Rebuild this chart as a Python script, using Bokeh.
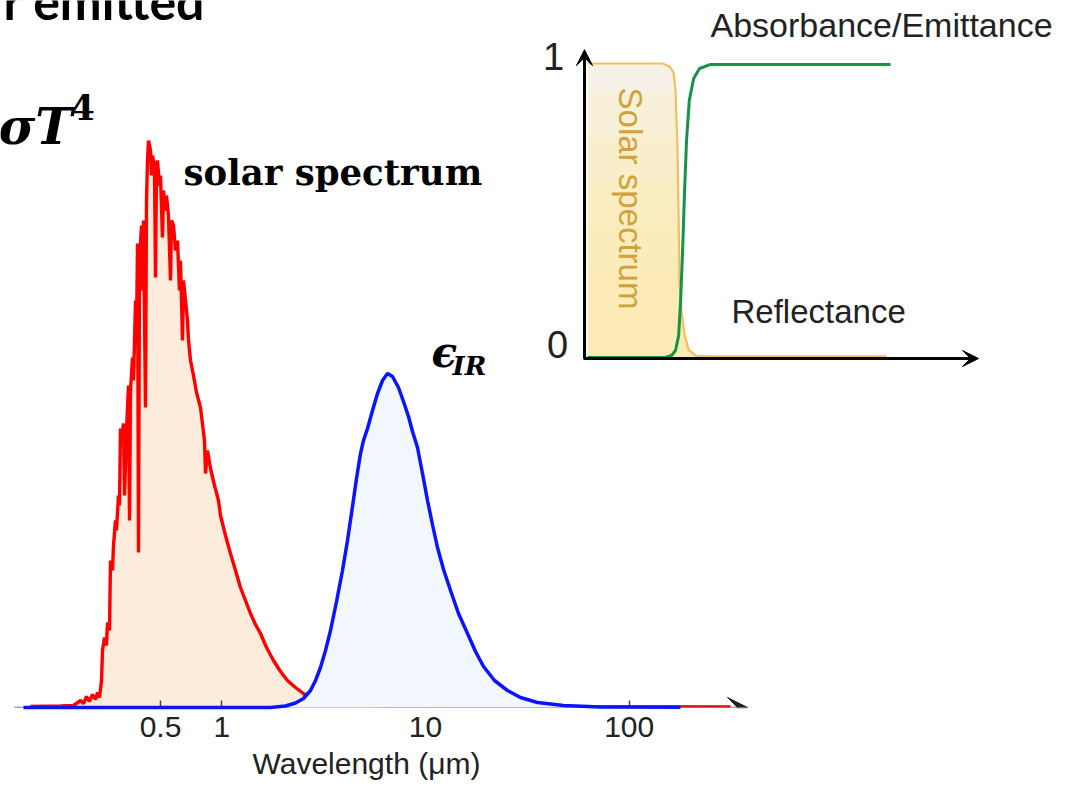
import numpy as np
from bokeh.plotting import figure
from bokeh.models import (Range1d, LinearScale, FixedTicker, PrintfTickFormatter, Label, Arrow,
                          VeeHead, Title)
from bokeh.embed import file_html
from bokeh.resources import INLINE

# ---------------- data ----------------
# solar spectrum (wavelength in micrometres, relative intensity)
solar_wl = [0.1150, 0.1615, 0.1871, 0.2025, 0.2095, 0.2167, 0.2241, 0.2319, 0.2399, 0.2454,
            0.2510, 0.2567, 0.2597, 0.2656, 0.2716, 0.2747, 0.2810, 0.2842, 0.2907, 0.2940,
            0.3007, 0.3041, 0.3111, 0.3146, 0.3182, 0.3218, 0.3292, 0.3330, 0.3405, 0.3483,
            0.3523, 0.3563, 0.3645, 0.3686, 0.3771, 0.3814, 0.3857, 0.3901, 0.3945, 0.4035,
            0.4081, 0.4127, 0.4221, 0.4269, 0.4318, 0.4367, 0.4467, 0.4517, 0.4568, 0.4673,
            0.4726, 0.4780, 0.4834, 0.4944, 0.5000, 0.5115, 0.5173, 0.5291, 0.5351, 0.5473,
            0.5600, 0.5663, 0.5793, 0.5925, 0.6061, 0.6200, 0.6270, 0.6413, 0.6486, 0.6635,
            0.6786, 0.6864, 0.7021, 0.7262, 0.7515, 0.7859, 0.8225, 0.8318, 0.8507, 0.8801,
            0.9209, 0.9634, 0.9854, 1.043, 1.103, 1.168, 1.235, 1.307, 1.383, 1.464,
            1.549, 1.658, 1.794, 1.942, 2.101, 2.301, 2.518, 2.665, 2.884, 3.417,
            7.54, 314.2]
solar_val = [0.01, 0.015, 0.02, 0.07, 0.04, 0.11, 0.06, 0.13, 0.08, 0.15,
             0.10, 0.27, 0.57, 0.70, 0.62, 0.85, 0.77, 1.47, 1.37, 1.62,
             1.87, 1.77, 2.12, 2.02, 2.79, 2.67, 2.84, 2.12, 2.77, 3.22,
             1.87, 3.17, 3.50, 3.27, 4.07, 3.77, 4.64, 1.55, 4.47, 4.82,
             4.17, 4.87, 3.00, 5.07, 5.47, 5.67, 5.57, 5.32, 5.52, 5.42,
             4.30, 5.37, 5.47, 5.22, 5.32, 4.70, 5.17, 4.97, 5.12, 4.92,
             4.27, 4.87, 4.82, 4.57, 4.67, 4.17, 4.47, 3.67, 4.27, 4.07,
             3.87, 3.67, 3.47, 3.32, 3.15, 3.00, 2.67, 2.34, 2.57, 2.39,
             2.22, 2.07, 1.92, 1.72, 1.54, 1.37, 1.20, 1.07, 0.94, 0.83,
             0.74, 0.60, 0.47, 0.36, 0.27, 0.20, 0.14, 0.09, 0.05, 0.025,
             0.01, 0.005]

# thermal emission (epsilon_IR)
ir_wl = [0.1063, 1.734, 2.055, 2.301, 2.518, 2.725, 2.884, 3.052, 3.229, 3.417,
         3.658, 3.913, 4.141, 4.381, 4.584, 4.797, 4.962, 5.192, 5.494, 5.813,
         6.151, 6.508, 6.887, 7.369, 7.798, 8.251, 8.634, 9.136, 9.667, 10.23,
         10.82, 11.45, 12.26, 13.27, 14.52, 16.08, 17.60, 19.27, 21.82, 25.26,
         29.27, 35.46, 47.58, 72.28, 178.5]
ir_val = [0, 0, 0.015, 0.045, 0.09, 0.17, 0.27, 0.40, 0.57, 0.77,
          1.06, 1.37, 1.67, 2.01, 2.29, 2.54, 2.67, 2.79, 2.97, 3.14,
          3.27, 3.34, 3.31, 3.20, 3.06, 2.91, 2.76, 2.60, 2.34, 2.07,
          1.83, 1.60, 1.38, 1.17, 0.94, 0.74, 0.56, 0.41, 0.27, 0.17,
          0.10, 0.05, 0.02, 0.005, 0.003]

tick_vals = [0.5, 1, 10, 100]

# inset: ideal selective surface (normalised wavelength, 0..1)
refl_x = [0.008, 0.198, 0.216, 0.226, 0.231, 0.236, 0.239, 0.241, 0.246, 0.254, 0.264, 0.282, 0.320, 0.766]
refl_y = [1.0, 1.0, 0.99, 0.97, 0.91, 0.71, 0.47, 0.26, 0.16, 0.08, 0.03, 0.01, 0.007, 0.007]
abs_x = [0.008, 0.203, 0.221, 0.231, 0.239, 0.244, 0.249, 0.254, 0.259, 0.266, 0.277, 0.292, 0.320, 0.777]
abs_y = [0.003, 0.003, 0.01, 0.027, 0.078, 0.197, 0.366, 0.569, 0.739, 0.875, 0.949, 0.983, 0.997, 0.997]

# ---------------- figure ----------------
p = figure(width=1072, height=787, x_axis_type="log",
           x_range=Range1d(0.08196, 15005), y_range=Range1d(0, 7.07),
           output_backend="svg", toolbar_location=None, y_axis_location=None,
           min_border_left=0, min_border_right=0, min_border_top=0, min_border_bottom=80)
p.outline_line_color = None
p.xgrid.visible = False
p.ygrid.visible = False
p.background_fill_color = "white"
p.border_fill_color = "white"
p.extra_x_ranges = {"inset": Range1d(-1.48223, 1.23858)}
p.extra_x_scales = {"inset": LinearScale()}
p.extra_y_ranges = {"inset": Range1d(-1.18305, 1.21356)}

ax = p.xaxis[0]
ax.ticker = FixedTicker(ticks=tick_vals)
ax.formatter = PrintfTickFormatter(format="%g")
ax.axis_line_color = None
ax.major_tick_in = 7
ax.major_tick_out = 0
ax.major_tick_line_color = "#444444"
ax.major_tick_line_width = 1.5
ax.minor_tick_line_color = None
ax.major_label_text_font = "Liberation Sans"
ax.major_label_text_font_size = "30px"
ax.major_label_text_color = "#222222"
ax.major_label_standoff = 9

# x-axis caption, placed under the axis, left-aligned with an offset
p.add_layout(Title(text="Wavelength (μm)", align="left", offset=252, standoff=10,
                   text_font="Liberation Sans", text_font_size="30px",
                   text_font_style="normal", text_color="#222222"), "below")

# main curves
p.varea(x=solar_wl, y1=0, y2=solar_val, fill_color="#fdecdc")
p.line(solar_wl, solar_val, line_color="#ff0000", line_width=3.4)
p.varea(x=ir_wl, y1=0, y2=ir_val, fill_color="#f2f7fd", level="overlay")
p.line(ir_wl, ir_val, line_color="#0a14ff", line_width=3.5, level="overlay")

# main axis arrow
p.add_layout(Arrow(x_start=0.0960, y_start=0, x_end=381, y_end=0,
                   line_color="#555555", line_width=1.5,
                   end=VeeHead(size=20, fill_color="#222222", line_color="#222222")))

# inset fill (light gradient imitation)
refl_arr = np.array(refl_y)
p.varea(x=refl_x, y1=0, y2=refl_arr, fill_color="#f5f1e7",
        x_range_name="inset", y_range_name="inset")
for cap in [0.9, 0.75, 0.6, 0.45, 0.3]:
    p.varea(x=refl_x, y1=0, y2=np.minimum(refl_arr, cap), fill_color="#fde9a8", fill_alpha=0.24,
            x_range_name="inset", y_range_name="inset")
p.line(refl_x, refl_y, line_color="#f3bf5a", line_width=2.2,
       x_range_name="inset", y_range_name="inset")
p.line(abs_x, abs_y, line_color="#149447", line_width=3,
       x_range_name="inset", y_range_name="inset")

# inset axes
p.add_layout(Arrow(x_start=0, y_start=0, x_end=0, y_end=1.047,
                   line_color="black", line_width=3,
                   x_range_name="inset", y_range_name="inset",
                   end=VeeHead(size=16, fill_color="black", line_color="black")))
p.add_layout(Arrow(x_start=-0.0025, y_start=0, x_end=1.0, y_end=0,
                   line_color="black", line_width=3,
                   x_range_name="inset", y_range_name="inset",
                   end=VeeHead(size=16, fill_color="black", line_color="black")))

# ---------------- texts ----------------
def lab(x, y, text, font, size, style="normal", color="black", align="left",
        baseline="alphabetic", angle=0, inset=False):
    kw = dict(x_range_name="inset", y_range_name="inset") if inset else {}
    p.add_layout(Label(x=x, y=y, text=text, text_font=font, text_font_size=size,
                       text_font_style=style, text_color=color, text_align=align,
                       text_baseline=baseline, angle=angle, **kw))

lab(0.8318, 7.07, "r emitted", "Lato", "50px", "bold", align="right")
lab(0.1849, 5.81, "σT", "DejaVu Serif", "50px", "bold italic", align="right")
lab(0.1809, 6.01, "4", "DejaVu Serif", "35px", "bold")
lab(0.6486, 5.35, "solar spectrum", "DejaVu Serif", "35.5px", "bold")
lab(10.70, 3.55, "ϵ", "DejaVu Serif", "42px", "bold italic")
lab(13.57, 3.42, "IR", "DejaVu Serif", "26px", "bold italic")

lab(0.3198, 1.1322, "Absorbance/Emittance", "Liberation Sans", "34px", color="#222222", inset=True)
lab(0.3731, 0.1593, "Reflectance", "Liberation Sans", "33px", color="#222222", inset=True)
lab(-0.0787, 1.0238, "1", "Liberation Sans", "38px", color="#222222", align="center", inset=True)
lab(-0.0685, 0.0475, "0", "Liberation Sans", "38px", color="#222222", align="center", inset=True)
lab(0.1168, 0.5424, "Solar spectrum", "Liberation Sans", "33px", color="#cfa23c",
    align="center", baseline="middle", angle=-np.pi / 2, inset=True)

open("out.html", "w").write(file_html(p, INLINE))
